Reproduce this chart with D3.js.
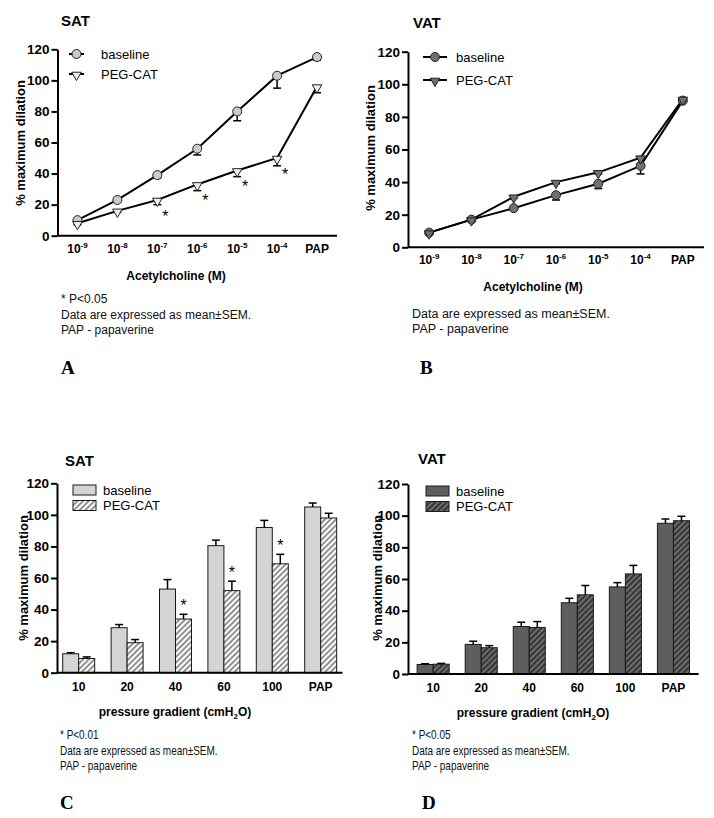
<!DOCTYPE html>
<html><head><meta charset="utf-8">
<script src="https://cdn.jsdelivr.net/npm/d3@7"></script>
<style>
body{margin:0;background:#fff;}
svg{display:block;font-family:"Liberation Sans",Arial,sans-serif;}
</style></head><body>
<svg id="chart" width="714" height="818"></svg>
<script>
// ---------- DATA ----------
const acCategories = ["1e-9","1e-8","1e-7","1e-6","1e-5","1e-4","PAP"];
const acTickBase = ["10","10","10","10","10","10","PAP"];
const acTickExp = ["-9","-8","-7","-6","-5","-4",""];
const pressureCategories = ["10","20","40","60","100","PAP"];
const yTicks = [0,20,40,60,80,100,120];
const seriesNames = ["baseline","PEG-CAT"];

// Panel A: SAT, acetylcholine
const satAchBaseline = [10, 23, 39, 56, 80, 103, 115];
const satAchBaselineSem = [1, 1, 2, 4, 6, 8, 2];
const satAchPeg = [8, 16, 23, 33, 42, 50, 96];
const satAchPegSem = [1, 1, 3, 4, 4, 5, 4];
const satAchSig = [false, false, true, true, true, true, false];

// Panel B: VAT, acetylcholine
const vatAchBaseline = [9, 17, 24, 32, 39, 50, 90];
const vatAchBaselineSem = [1, 1, 1, 3, 3, 5, 1];
const vatAchPeg = [9, 17, 31, 40, 46, 55, 91];
const vatAchPegSem = [1, 1, 1, 1, 1, 1, 1];

// Panel C: SAT, pressure gradient
const satFlowBaseline = [12, 28.5, 53, 80.5, 92, 105];
const satFlowBaselineSem = [0.7, 2, 6, 3.5, 4.5, 2.5];
const satFlowPeg = [9, 19, 34, 52, 69, 98];
const satFlowPegSem = [1, 2, 3, 6, 6, 3];
const satFlowSig = [false, false, true, true, true, false];

// Panel D: VAT, pressure gradient
const vatFlowBaseline = [6, 18.7, 30, 45, 55, 95.2];
const vatFlowBaselineSem = [0.5, 2, 2.7, 2.8, 2.7, 2.7];
const vatFlowPeg = [6.2, 16.6, 29.4, 50, 63.2, 96.8];
const vatFlowPegSem = [0.5, 1.3, 3.7, 5.9, 5.4, 2.8];

// ---------- DRAWING ----------
const svg = d3.select("#chart");
const defs = svg.append("defs");
function hatch(id, bg, fg, w){
  const p = defs.append("pattern").attr("id", id).attr("patternUnits","userSpaceOnUse")
    .attr("width",4).attr("height",4).attr("patternTransform","rotate(45)");
  p.append("rect").attr("width",4).attr("height",4).attr("fill",bg);
  p.append("line").attr("x1",1).attr("y1",0).attr("x2",1).attr("y2",4).attr("stroke",fg).attr("stroke-width",w);
}
hatch("hatchLight","#ffffff","#767676",1.6);
hatch("hatchDark","#363636","#8a8a8a",1.3);

function yAxis(g, y, left){
  const ax = d3.axisLeft(y).tickValues(yTicks).tickSize(6).tickSizeOuter(0).tickPadding(2);
  const a = g.append("g").attr("transform",`translate(${left},0)`).call(ax);
  a.attr("font-family",null).attr("font-size",null);
  a.select(".domain").attr("stroke","#000").attr("stroke-width",2);
  a.selectAll(".tick line").attr("stroke","#000").attr("stroke-width",2);
  a.selectAll(".tick text").attr("font-size",13.5).attr("font-weight","bold").attr("fill","#000");
}
function yTitle(g, x, y){
  g.append("text").attr("transform",`translate(${x},${y}) rotate(-90)`).attr("text-anchor","middle")
    .attr("font-size",13).attr("font-weight","bold").text("% maximum dilation");
}
function title(g, x, y, t){
  g.append("text").attr("x",x).attr("y",y).attr("font-size",15).attr("font-weight","bold").text(t);
}
function notes(g, x, y, lines, size, sx){
  lines.forEach((t,i)=>{
    g.append("text").attr("transform",`translate(${x},${y+i*15.5}) scale(${sx},1)`)
      .attr("font-size",size).attr("fill","#111").text(t);
  });
}
function letter(g, x, y, t){
  g.append("text").attr("x",x).attr("y",y).attr("font-family","'Liberation Serif',serif")
    .attr("font-size",19).attr("font-weight","bold").text(t);
}
function marker(g, kind, cx, cy, fill){
  if(kind==="circle"){
    g.append("circle").attr("cx",cx).attr("cy",cy).attr("r",4.5).attr("fill",fill).attr("stroke","#222").attr("stroke-width",1);
  } else {
    g.append("path").attr("d",d3.symbol(d3.symbolTriangle,40)())
      .attr("transform",`translate(${cx},${cy+1}) rotate(180)`)
      .attr("fill",fill).attr("stroke","#222").attr("stroke-width",1);
  }
}

function linePanel(cfg){
  const g = svg.append("g");
  const x = d3.scalePoint().domain(acCategories).range([cfg.left, cfg.right]).padding(0.5);
  const y = d3.scaleLinear().domain([0,120]).range([cfg.y0, cfg.y120]);
  g.append("line").attr("x1",cfg.left).attr("x2",cfg.right).attr("y1",cfg.y0).attr("y2",cfg.y0)
    .attr("stroke","#000").attr("stroke-width",2);
  yAxis(g, y, cfg.left);
  acCategories.forEach((c,i)=>{
    const t = g.append("text").attr("x",x(c)).attr("y",cfg.y0+17).attr("text-anchor","middle")
      .attr("font-size",12).attr("font-weight","bold");
    t.append("tspan").text(acTickBase[i]);
    if(acTickExp[i]) t.append("tspan").attr("font-size",8).attr("dy",-5).text(acTickExp[i]);
  });
  g.append("text").attr("x",cfg.xTitleX).attr("y",cfg.y0+44).attr("text-anchor","middle")
    .attr("font-size",12).attr("font-weight","bold").text("Acetylcholine (M)");
  yTitle(g, cfg.yTitleX, cfg.yTitleY);
  title(g, cfg.titleX, cfg.titleY, cfg.title);
  const series = [
    {vals:cfg.base, sem:cfg.baseSem, kind:"circle", fill:cfg.baseFill},
    {vals:cfg.peg, sem:cfg.pegSem, kind:"tri", fill:cfg.pegFill}
  ];
  const line = d3.line().x((d,i)=>x(acCategories[i])).y(d=>y(d));
  series.forEach(s=>{
    g.append("path").attr("d",line(s.vals)).attr("fill","none").attr("stroke","#000").attr("stroke-width",2);
  });
  series.forEach(s=>{
    s.vals.forEach((v,i)=>{
      const cx = x(acCategories[i]);
      g.append("line").attr("x1",cx).attr("x2",cx).attr("y1",y(v)).attr("y2",y(v-s.sem[i])).attr("stroke","#000").attr("stroke-width",1.5);
      g.append("line").attr("x1",cx-4).attr("x2",cx+4).attr("y1",y(v-s.sem[i])).attr("y2",y(v-s.sem[i])).attr("stroke","#000").attr("stroke-width",1.5);
    });
  });
  series.forEach(s=>{
    s.vals.forEach((v,i)=>marker(g, s.kind, x(acCategories[i]), y(v), s.fill));
  });
  if(cfg.sig){
    cfg.sig.forEach((sg,i)=>{
      if(sg) g.append("text").attr("x",x(acCategories[i])+8).attr("y",y(cfg.peg[i])+22)
        .attr("text-anchor","middle").attr("font-size",16).text("*");
    });
  }
  series.forEach((s,k)=>{
    const ly = cfg.legY + k*cfg.legStep;
    g.append("line").attr("x1",cfg.legX).attr("x2",cfg.legX+cfg.legW).attr("y1",ly).attr("y2",ly).attr("stroke","#000").attr("stroke-width",2);
    marker(g, s.kind, cfg.legX+cfg.legW/2, ly, s.fill);
    g.append("text").attr("x",cfg.legTextX).attr("y",ly+4.5).attr("font-size",13).text(seriesNames[k]);
  });
}

function barPanel(cfg){
  const g = svg.append("g");
  const x0 = d3.scaleBand().domain(pressureCategories).range([cfg.left, cfg.right])
    .paddingInner(cfg.pi).paddingOuter(cfg.po);
  const x1 = d3.scaleBand().domain(seriesNames).range([0, x0.bandwidth()]);
  const y = d3.scaleLinear().domain([0,120]).range([cfg.y0, cfg.y120]);
  const series = [
    {name:"baseline", vals:cfg.base, sem:cfg.baseSem, fill:cfg.baseFill},
    {name:"PEG-CAT", vals:cfg.peg, sem:cfg.pegSem, fill:cfg.pegFill}
  ];
  series.forEach(s=>{
    s.vals.forEach((v,i)=>{
      const bx = x0(pressureCategories[i]) + x1(s.name);
      g.append("rect").attr("x",bx).attr("y",y(v)).attr("width",x1.bandwidth()).attr("height",y(0)-y(v))
        .attr("fill",s.fill).attr("stroke","#1a1a1a").attr("stroke-width",1);
      const cx = bx + x1.bandwidth()/2;
      const top = y(v+s.sem[i]);
      g.append("line").attr("x1",cx).attr("x2",cx).attr("y1",y(v)).attr("y2",top).attr("stroke","#000").attr("stroke-width",1.5);
      g.append("line").attr("x1",cx-4).attr("x2",cx+4).attr("y1",top).attr("y2",top).attr("stroke","#000").attr("stroke-width",1.5);
    });
  });
  if(cfg.sig){
    cfg.sig.forEach((sg,i)=>{
      if(sg){
        const cx = x0(pressureCategories[i]) + x1("PEG-CAT") + x1.bandwidth()/2;
        g.append("text").attr("x",cx).attr("y",y(cfg.peg[i]+cfg.pegSem[i])-3.5).attr("text-anchor","middle").attr("font-size",16).text("*");
      }
    });
  }
  g.append("line").attr("x1",cfg.left).attr("x2",cfg.right).attr("y1",cfg.y0).attr("y2",cfg.y0)
    .attr("stroke","#000").attr("stroke-width",2);
  yAxis(g, y, cfg.left);
  pressureCategories.forEach(c=>{
    g.append("text").attr("x",x0(c)+x0.bandwidth()/2).attr("y",cfg.y0+18).attr("text-anchor","middle")
      .attr("font-size",12).attr("font-weight","bold").text(c);
  });
  const xt = g.append("text").attr("x",cfg.xTitleX).attr("y",cfg.y0+43).attr("text-anchor","middle")
    .attr("font-size",12).attr("font-weight","bold");
  xt.append("tspan").text("pressure gradient (cmH");
  xt.append("tspan").attr("font-size",8).attr("dy",3).text("2");
  xt.append("tspan").attr("dy",-3).text("O)");
  yTitle(g, cfg.yTitleX, cfg.yTitleY);
  title(g, cfg.titleX, cfg.titleY, cfg.title);
  series.forEach((s,k)=>{
    const ly = cfg.legY + k*15.5;
    g.append("rect").attr("x",cfg.legX).attr("y",ly-5).attr("width",23).attr("height",10)
      .attr("fill",s.fill).attr("stroke","#1a1a1a").attr("stroke-width",1);
    g.append("text").attr("x",cfg.legX+30).attr("y",ly+4.5).attr("font-size",13).text(s.name);
  });
}

linePanel({left:57.5, right:337, y0:235.7, y120:49.3, title:"SAT", titleX:61, titleY:26,
  xTitleX:176, yTitleX:24.5, yTitleY:143,
  base:satAchBaseline, baseSem:satAchBaselineSem, peg:satAchPeg, pegSem:satAchPegSem, sig:satAchSig,
  baseFill:"#cbcbcb", pegFill:"#eeeeee", legX:69, legW:15, legY:54, legStep:20, legTextX:101});
linePanel({left:408, right:704, y0:247.3, y120:51.7, title:"VAT", titleX:413, titleY:28,
  xTitleX:533, yTitleX:374.5, yTitleY:148,
  base:vatAchBaseline, baseSem:vatAchBaselineSem, peg:vatAchPeg, pegSem:vatAchPegSem, sig:null,
  baseFill:"#707070", pegFill:"#707070", legX:423, legW:24, legY:57, legStep:23, legTextX:456});
barPanel({left:57, right:342.4, pi:0.339, po:0.118, y0:672.7, y120:483.3, title:"SAT", titleX:65, titleY:466,
  xTitleX:175, yTitleX:27.5, yTitleY:578,
  base:satFlowBaseline, baseSem:satFlowBaselineSem, peg:satFlowPeg, pegSem:satFlowPegSem, sig:satFlowSig,
  baseFill:"#d4d4d4", pegFill:"url(#hatchLight)", legX:73, legY:490});
barPanel({left:408, right:698.6, pi:0.333, po:0.19, y0:674, y120:484, title:"VAT", titleX:418, titleY:464,
  xTitleX:533, yTitleX:381.5, yTitleY:578,
  base:vatFlowBaseline, baseSem:vatFlowBaselineSem, peg:vatFlowPeg, pegSem:vatFlowPegSem, sig:null,
  baseFill:"#5e5e5e", pegFill:"url(#hatchDark)", legX:426, legY:491});

notes(svg, 61, 303, ["* P<0.05","Data are expressed as mean\u00b1SEM.","PAP - papaverine"], 12, 1);
notes(svg, 412, 317.5, ["Data are expressed as mean\u00b1SEM.","PAP - papaverine"], 12.5, 1);
notes(svg, 60, 739, ["* P<0.01","Data are expressed as mean\u00b1SEM.","PAP - papaverine"], 12, 0.83);
notes(svg, 412, 739, ["* P<0.05","Data are expressed as mean\u00b1SEM.","PAP - papaverine"], 12, 0.83);
letter(svg, 61, 373.5, "A");
letter(svg, 420, 373.5, "B");
letter(svg, 60, 809, "C");
letter(svg, 422, 809, "D");
</script>
</body></html>
